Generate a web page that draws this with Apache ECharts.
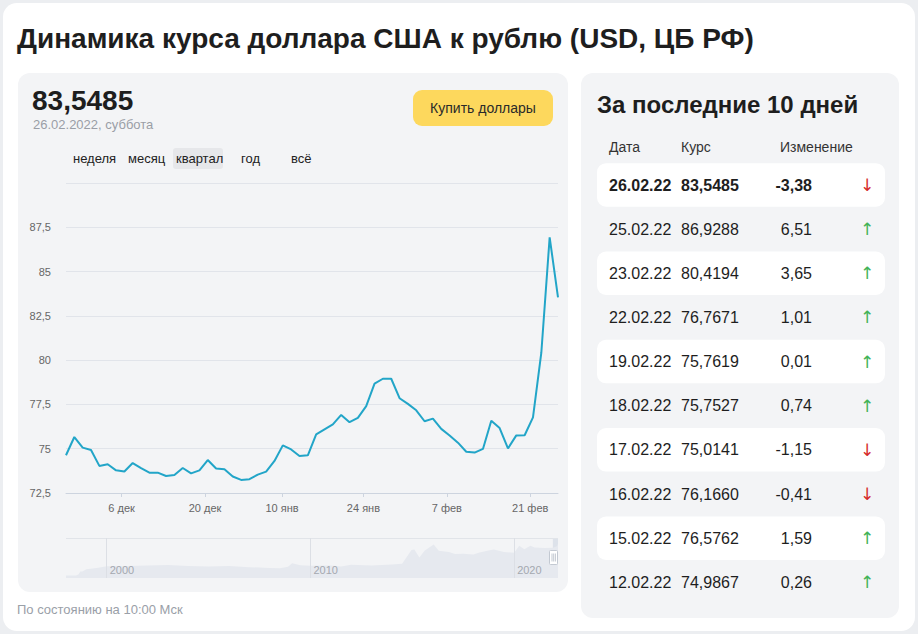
<!DOCTYPE html>
<html><head><meta charset="utf-8">
<script src="https://cdn.jsdelivr.net/npm/echarts@6/dist/echarts.min.js"></script>
<style>html,body{margin:0;padding:0;background:#eceef1}#c{width:918px;height:634px}</style>
</head><body><div id="c"></div>
<script>
// ---- data ----
const rateDates = [
 '2021-11-26','2021-11-27','2021-11-30','2021-12-01','2021-12-02','2021-12-03','2021-12-04',
 '2021-12-07','2021-12-08','2021-12-09','2021-12-10','2021-12-11',
 '2021-12-14','2021-12-15','2021-12-16','2021-12-17','2021-12-18',
 '2021-12-21','2021-12-22','2021-12-23','2021-12-24','2021-12-25',
 '2021-12-28','2021-12-29','2021-12-30','2021-12-31',
 '2022-01-11','2022-01-12','2022-01-13','2022-01-14','2022-01-15',
 '2022-01-18','2022-01-19','2022-01-20','2022-01-21','2022-01-22',
 '2022-01-25','2022-01-26','2022-01-27','2022-01-28','2022-01-29',
 '2022-02-01','2022-02-02','2022-02-03','2022-02-04','2022-02-05',
 '2022-02-08','2022-02-09','2022-02-10','2022-02-11','2022-02-12',
 '2022-02-15','2022-02-16','2022-02-17','2022-02-18','2022-02-19',
 '2022-02-22','2022-02-23','2022-02-25','2022-02-26'
];
const rateValues = [
 74.63,75.66,75.06,74.93,74.03,74.12,73.78,
 73.71,74.19,73.90,73.65,73.65,
 73.46,73.52,73.91,73.61,73.78,
 74.36,73.88,73.84,73.43,73.24,
 73.28,73.54,73.71,74.31,
 75.19,74.96,74.59,74.63,75.81,
 76.09,76.37,76.91,76.50,76.74,
 77.40,78.67,78.95,78.95,77.85,
 77.53,77.17,76.55,76.70,76.12,
 75.75,75.34,74.83,74.78,74.9867,
 76.5762,76.1660,75.0141,75.7527,75.7619,
 76.7671,80.4194,86.9288,83.5485
];
const tickDates  = ['2021-12-06','2021-12-20','2022-01-10','2022-01-24','2022-02-07','2022-02-21'];
const tickLabels = ['6 дек','20 дек','10 янв','24 янв','7 фев','21 фев'];

const historyYears = [1998.0,1998.5,1998.62,1998.7,1998.8,1999.0,1999.5,2000.0,2001.0,2002.0,2003.0,2004.0,2005.0,2006.0,2007.0,2008.0,2008.5,2008.9,2009.1,2009.5,2010.0,2011.0,2011.5,2012.0,2013.0,2014.0,2014.5,2014.96,2015.1,2015.35,2015.6,2016.05,2016.3,2016.8,2017.1,2017.5,2018.0,2018.3,2018.8,2019.0,2019.5,2020.0,2020.25,2020.5,2020.8,2021.0,2021.5,2021.9,2022.1,2022.155];
const historyRates = [5.96,6.2,9,16,16,21,24.5,28.5,29,30.5,31.8,29.4,27.9,28.8,26.3,24.5,23.5,27,36,31,30,30.5,28,32,30.4,33,34.5,67.8,69,50,66,81,66,63,58,59,57,62,67,69,63,61,78,70,78,74,72.5,73.5,77,83.5];
const historyTickYears = [2000, 2010, 2020];

const tableDates   = ['26.02.22','25.02.22','23.02.22','22.02.22','19.02.22','18.02.22','17.02.22','16.02.22','15.02.22','12.02.22'];
const tableRates   = ['83,5485','86,9288','80,4194','76,7671','75,7619','75,7527','75,0141','76,1660','76,5762','74,9867'];
const tableChanges = ['-3,38','6,51','3,65','1,01','0,01','0,74','-1,15','-0,41','1,59','0,26'];

const periodTabs = ['неделя','месяц','квартал','год','всё'];
const titleText = 'Динамика курса доллара США к рублю (USD, ЦБ РФ)';
const currentRate = '83,5485';
const currentDate = '26.02.2022, суббота';

// ---- helpers ----
const F = '"Liberation Sans", Arial, sans-serif';
const ts = s => new Date(s + 'T00:00:00Z').getTime();
const dTs = rateDates.map(ts);
const tickPos = tickDates.map(s => {
  const t = ts(s);
  for (let i = 0; i < dTs.length - 1; i++) {
    if (t >= dTs[i] && t < dTs[i+1]) return i + (t - dTs[i]) / (dTs[i+1] - dTs[i]);
  }
  return dTs.length - 1;
});
const decYear = s => {
  const d = new Date(s + 'T00:00:00Z'); const y = d.getUTCFullYear();
  const a = Date.UTC(y,0,1), b = Date.UTC(y+1,0,1);
  return y + (d.getTime() - a) / (b - a);
};
const winStart = decYear(rateDates[0]);
const winEnd = decYear(rateDates[rateDates.length-1]);

// ---- graphics ----
const T = (text, x, y, o) => Object.assign({
  type:'text', z:10,
  style:Object.assign({text, x, y, fill:'#222', font:'14px ' + F,
    align:'left', textAlign:'left', verticalAlign:'middle', textVerticalAlign:'middle'}, o||{})
});
const g = [];
g.push({type:'rect', z:-20, shape:{x:3,y:3,width:912,height:628,r:14}, style:{fill:'#ffffff'}});
g.push({type:'rect', z:-19, shape:{x:18,y:73,width:550,height:519,r:12}, style:{fill:'#f3f4f6'}});
g.push({type:'rect', z:-19, shape:{x:581,y:73,width:318,height:545,r:12}, style:{fill:'#f3f4f6'}});
g.push(T(titleText, 17, 38, {font:'bold 28px ' + F, fill:'#1e1e1e'}));
g.push(T(currentRate, 32, 100, {font:'bold 28px ' + F, fill:'#1e1e1e'}));
g.push(T(currentDate, 33, 124, {font:'13px ' + F, fill:'#9a9ea6'}));
g.push({type:'rect', z:-5, shape:{x:413,y:90,width:140,height:36,r:9}, style:{fill:'#fdd85d'}});
g.push(T('Купить доллары', 483, 108, {font:'14px ' + F, fill:'#2a2a2a', align:'center', textAlign:'center'}));
const tabX = [73,128,176,241,291];
g.push({type:'rect', z:-5, shape:{x:173,y:148,width:50,height:21,r:3}, style:{fill:'#e6e7ea'}});
periodTabs.forEach((p,i) => g.push(T(p, tabX[i], 158, {font:'13px ' + F, fill:'#222'})));
g.push(T('По состоянию на 10:00 Мск', 17, 609, {font:'13px ' + F, fill:'#9aa0a8'}));
// slider frame
g.push({type:'line', z:5, shape:{x1:66,y1:538.5,x2:558,y2:538.5}, style:{stroke:'#e1e4e9', lineWidth:1}});
g.push({type:'rect', z:20, shape:{x:549.5,y:550.5,width:8,height:14,r:1}, style:{fill:'#ffffff', stroke:'#c3c9d2', lineWidth:1}});
[552,553.7,555.4].forEach(x => g.push({type:'line', z:21, shape:{x1:x,y1:553.5,x2:x,y2:561.5}, style:{stroke:'#c3c9d2', lineWidth:1}}));
// right panel
g.push(T('За последние 10 дней', 597, 104, {font:'bold 24px ' + F, fill:'#1e1e1e'}));
g.push(T('Дата', 609, 147, {font:'14px ' + F, fill:'#333'}));
g.push(T('Курс', 681, 147, {font:'14px ' + F, fill:'#333'}));
g.push(T('Изменение', 780, 147, {font:'14px ' + F, fill:'#333'}));
tableDates.forEach((d,i) => {
  const cy = 185 + i * 44.15;
  if (i % 2 === 0) g.push({type:'rect', z:-5, shape:{x:597,y:cy-21.8,width:288,height:43.5,r:9}, style:{fill:'#ffffff'}});
  const w = i === 0 ? 'bold ' : '';
  g.push(T(d, 609, cy, {font:w + '16px ' + F, fill:'#1e1e1e'}));
  g.push(T(tableRates[i], 681, cy, {font:w + '16px ' + F, fill:'#1e1e1e'}));
  g.push(T(tableChanges[i], 812, cy, {font:w + '16px ' + F, fill:'#1e1e1e', align:'right', textAlign:'right'}));
  const down = tableChanges[i].startsWith('-');
  g.push(T(down ? '↓' : '↑', 867, cy, {font:'17px "DejaVu Sans", sans-serif', fill: down ? '#d52b2b' : '#43b357', align:'center', textAlign:'center'}));
});

const chart = echarts.init(document.getElementById('c'), null, {renderer:'svg', width:918, height:634});
chart.setOption({
  backgroundColor:'#eceef1',
  animation:false,
  textStyle:{fontFamily:F},
  graphic:{elements:g},
  grid:[
    {left:66, right:360, top:183, height:310},
    {left:66, right:360, top:538, height:40}
  ],
  xAxis:[
    {gridIndex:0, type:'value', min:0, max:rateDates.length-1,
     axisLine:{lineStyle:{color:'#cdd4df'}},
     axisTick:{show:true, length:4, lineStyle:{color:'#cdd4df'}, customValues:tickPos},
     axisLabel:{customValues:tickPos, color:'#666', fontSize:11, margin:9, fontFamily:F,
       formatter:v => { const k = tickPos.findIndex(p => Math.abs(p - v) < 1e-6); return k >= 0 ? tickLabels[k] : ''; }},
     splitLine:{show:false}},
    {gridIndex:1, type:'value', min:1998, max:winEnd, z:10,
     axisLine:{show:false}, axisTick:{show:false}, splitLine:{show:false},
     axisLabel:{inside:true, customValues:historyTickYears, align:'left', padding:[0,0,0,3],
       color:'#a4a8b0', fontSize:11, margin:3, fontFamily:F, formatter:v => String(Math.round(v))}}
  ],
  yAxis:[
    {gridIndex:0, type:'value', min:72.5, max:90, interval:2.5,
     axisLine:{show:false}, axisTick:{show:false},
     axisLabel:{color:'#666', fontSize:11, margin:15, fontFamily:F,
       formatter:v => v === 90 ? '' : String(v).replace('.', ',')},
     splitLine:{lineStyle:{color:'#e1e4ea', width:1}}},
    {gridIndex:1, type:'value', min:0, max:97, show:false, splitLine:{show:false}}
  ],
  series:[
    {type:'line', xAxisIndex:0, yAxisIndex:0, symbol:'none', silent:true,
     data:rateValues.map((v,i) => [i, v]),
     lineStyle:{color:'#22a5c8', width:2}},
    {type:'line', xAxisIndex:1, yAxisIndex:1, symbol:'none', silent:true, z:1,
     data:historyYears.map((y,i) => [y, historyRates[i]]),
     lineStyle:{width:0, color:'#e6e9ef'}, areaStyle:{color:'#e6e9ef', opacity:1},
     markLine:{silent:true, symbol:'none', label:{show:false},
       lineStyle:{color:'#dcdfe5', type:'solid', width:1},
       data:historyTickYears.map(y => ({xAxis:y}))},
     markArea:{silent:true, itemStyle:{color:'#dde2ea'},
       data:[[{xAxis:winStart},{xAxis:winEnd}]]}}
  ]
});
</script></body></html>
